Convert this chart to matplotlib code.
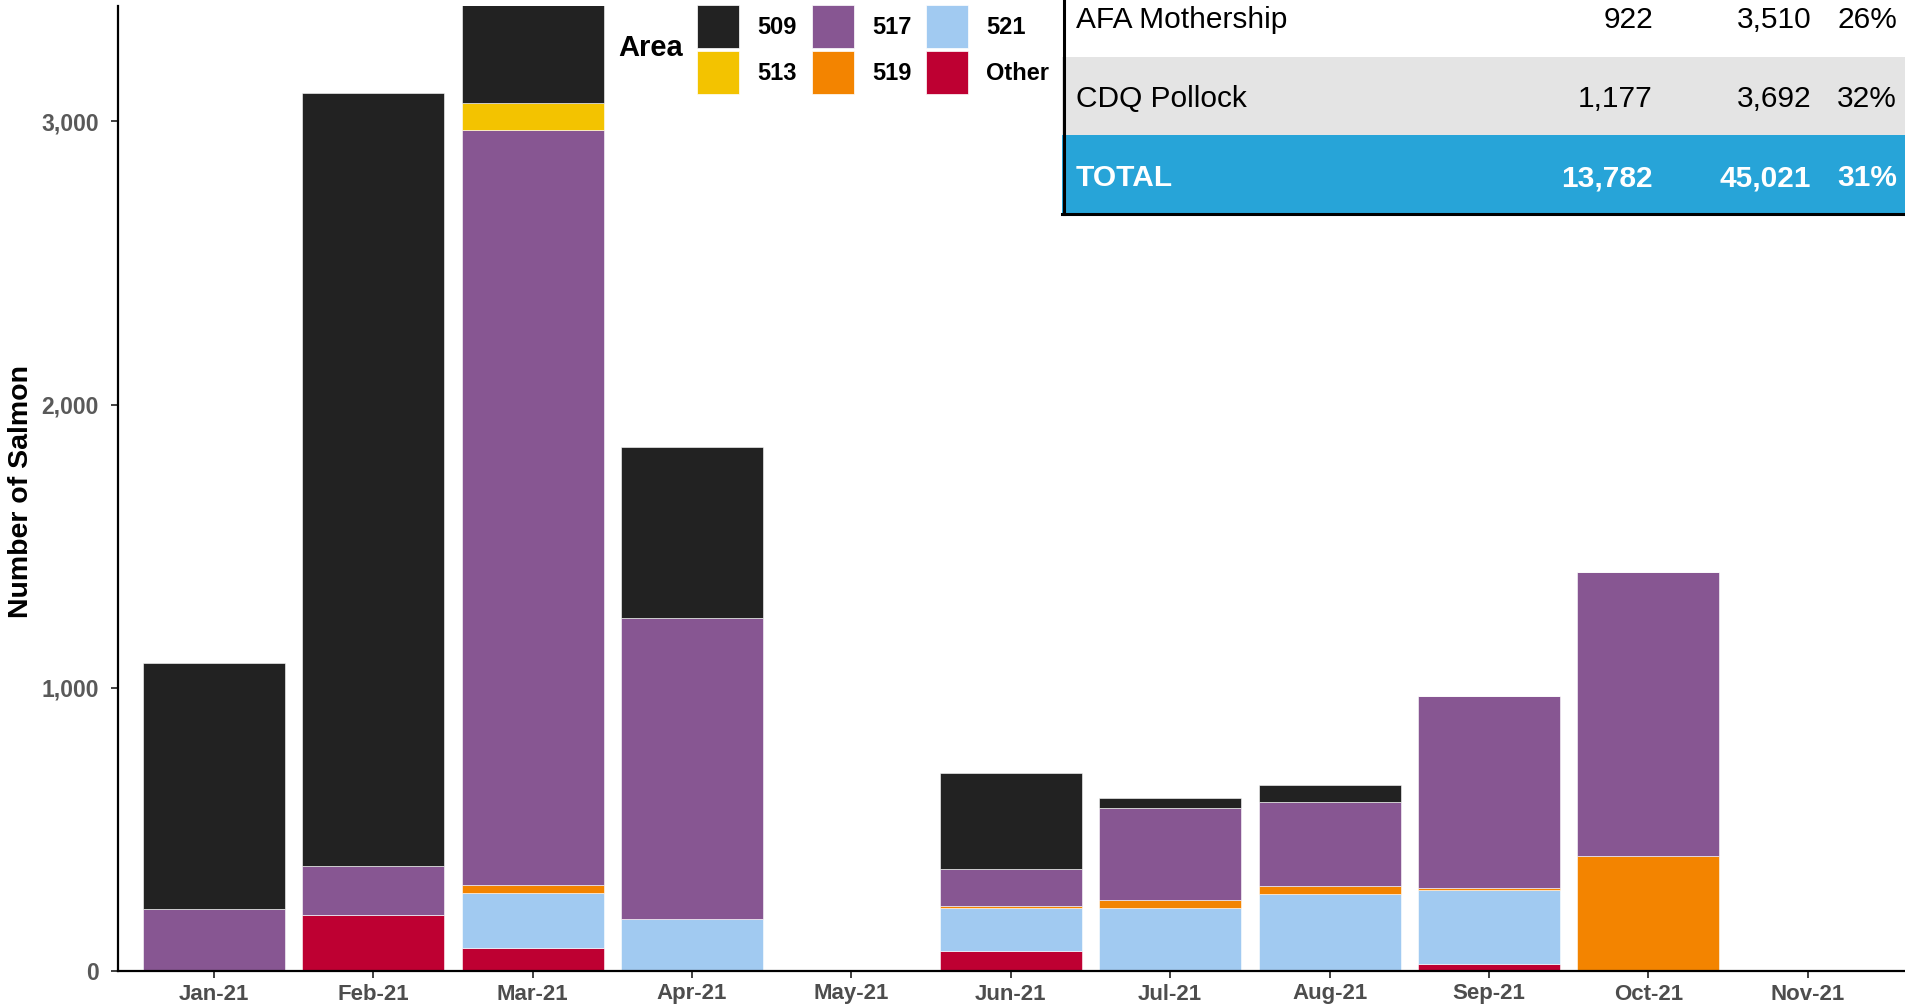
import matplotlib
matplotlib.use('Agg')
import numpy as np
import matplotlib.pyplot as plt
from matplotlib.patches import Rectangle

plt.rcParams['font.family'] = ['Liberation Sans', 'DejaVu Sans']

# Datos
meses = ['Jan-21', 'Feb-21', 'Mar-21', 'Apr-21', 'May-21', 'Jun-21',
         'Jul-21', 'Aug-21', 'Sep-21', 'Oct-21', 'Nov-21']
a509 = [867, 2730, 360, 605, 0, 339, 37, 59, 0, 0, 0]
a513 = [0, 0, 94, 0, 0, 0, 0, 0, 0, 0, 0]
a517 = [219, 172, 2668, 1060, 0, 131, 324, 299, 676, 1001, 0]
a519 = [0, 0, 27, 0, 0, 5, 28, 27, 9, 407, 0]
a521 = [0, 0, 194, 185, 0, 153, 222, 272, 260, 0, 0]
otra = [0, 197, 81, 0, 0, 70, 0, 0, 25, 0, 0]

filas = ['AFA Mothership', 'CDQ Pollock', 'TOTAL']
col_a = ['922', '1,177', '13,782']
col_b = ['3,510', '3,692', '45,021']
col_pct = ['26%', '32%', '31%']

# Orden de apilado (abajo -> arriba)
series = [('Other', otra, '#BE0032'),
          ('521', a521, '#A1CAF1'),
          ('519', a519, '#F38400'),
          ('517', a517, '#875692'),
          ('513', a513, '#F3C300'),
          ('509', a509, '#222222')]

W, H = 1905, 1006
fig = plt.figure(figsize=(W / 100, H / 100), dpi=100)
ax = fig.add_axes([118 / W, 35 / H, (W - 118) / W, (971 - 6) / H])

x = np.arange(len(meses))
base = np.zeros(len(meses))
colores = {}
for nombre, vals, c in series:
    vals = np.array(vals, dtype=float)
    ax.bar(x, vals, bottom=base, width=0.89, color=c, edgecolor='white', linewidth=0.4)
    base += vals
    colores[nombre] = c

ax.set_xlim(-0.602, 10.61)
ax.set_ylim(0, 3407)
ax.set_xticks(x)
ax.set_xticklabels(meses)
ax.set_yticks([0, 1000, 2000, 3000])
ax.set_yticklabels(['0', '1,000', '2,000', '3,000'])
for s in ['top', 'right']:
    ax.spines[s].set_visible(False)
for s in ['left', 'bottom']:
    ax.spines[s].set_linewidth(1.6)
    ax.spines[s].set_color('black')
ax.tick_params(axis='x', length=5, width=1.3, color='#333333', pad=4,
               labelsize=16, labelcolor='#4D4D4D')
ax.tick_params(axis='y', length=5, width=1.3, color='#333333', pad=9,
               labelsize=16.5, labelcolor='#595959')
for t in ax.get_xticklabels() + ax.get_yticklabels():
    t.set_fontweight('bold')
fig.text(21 / W, 1 - 491 / H, 'Number of Salmon', rotation=90, ha='center',
         va='center', fontsize=20.5, fontweight='bold', color='black')

# Capa en pixeles para leyenda y tabla
px = fig.add_axes([0, 0, 1, 1])
px.set_xlim(0, W)
px.set_ylim(H, 0)
px.axis('off')

# Leyenda
orden = ['509', '513', '517', '519', '521', 'Other']
col_x = [697, 812, 926]
fila_y = [5, 51]
for k, n in enumerate(orden):
    cx = col_x[k // 2]
    cy = fila_y[k % 2]
    px.add_patch(Rectangle((cx, cy), 42, 43, facecolor=colores[n],
                           edgecolor='white', linewidth=0.5))
    px.text(cx + 60, cy + 22, n, ha='left', va='center', fontsize=17,
            fontweight='bold')
px.text(618, 48, 'Area', ha='left', va='center', fontsize=21, fontweight='bold')

# Tabla
x0 = 1062
limites = [(-40, 57), (57, 135), (135, 215)]
fondos = ['white', '#E4E4E4', '#27A4D8']
for (y0, y1), fc in zip(limites, fondos):
    px.add_patch(Rectangle((x0, y0), W - x0, y1 - y0, facecolor=fc,
                           edgecolor='none', clip_on=False))
px.plot([x0 + 1.5, x0 + 1.5], [-40, 214], color='black', lw=2.2, clip_on=False)
px.plot([x0, W], [213.5, 213.5], color='black', lw=2.2, clip_on=False)
centros = [20, 99, 178]
for i, yc in enumerate(centros):
    total = filas[i] == 'TOTAL'
    kw = dict(va='center', fontsize=21.5,
              color='white' if total else 'black',
              fontweight='bold' if total else 'normal')
    px.text(x0 + 14, yc, filas[i], ha='left', **kw)
    px.text(x0 + 591, yc, col_a[i], ha='right', **kw)
    px.text(x0 + 749, yc, col_b[i], ha='right', **kw)
    px.text(x0 + 835, yc, col_pct[i], ha='right', **kw)

fig.savefig('out.png', dpi=100)
